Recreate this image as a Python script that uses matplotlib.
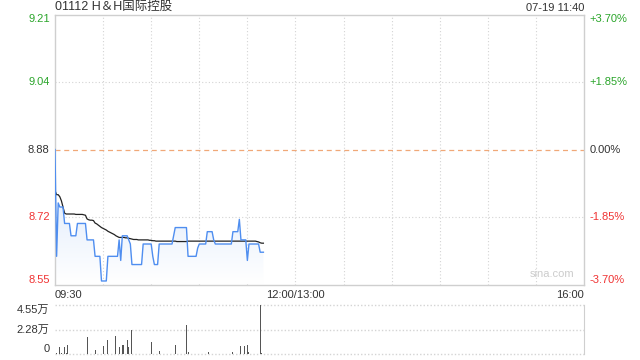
import matplotlib
matplotlib.use("Agg")
import numpy as np
import matplotlib.pyplot as plt
from matplotlib.colors import LinearSegmentedColormap

plt.rcParams['font.family'] = ['Liberation Sans', 'Noto Sans CJK SC', 'DejaVu Sans']

# ---- data -----------------------------------------------------------------
title = "01112 H＆H国际控股"
stamp = "07-19 11:40"
prev_close = 8.88
pct_ticks = [3.70, 1.85, 0.00, -1.85, -3.70]
price_labels = ["9.21", "9.04", "8.88", "8.72", "8.55"]
pct_labels = ["+3.70%", "+1.85%", "0.00%", "-1.85%", "-3.70%"]
vol_labels = ["4.55万", "2.28万", "0"]
vol_max = 45500
x_labels = ["09:30", "12:00/13:00", "16:00"]

# minute-by-minute price from 09:30 (minute 0) to 11:40 (minute 130)
price = [
    8.88, 8.62, 8.75, 8.74, 8.74, 8.74, 8.70, 8.70, 8.70, 8.70,   # 0-9
    8.67, 8.67, 8.67, 8.67, 8.70, 8.70, 8.70, 8.70, 8.70, 8.70,   # 10-19
    8.66, 8.66, 8.66, 8.66, 8.66, 8.62, 8.62, 8.62, 8.62, 8.56,   # 20-29
    8.56, 8.56, 8.56, 8.62, 8.62, 8.62, 8.62, 8.62, 8.62, 8.62,   # 30-39
    8.66, 8.61, 8.67, 8.67, 8.67, 8.67, 8.66, 8.65, 8.60, 8.60,   # 40-49
    8.60, 8.60, 8.60, 8.60, 8.60, 8.65, 8.65, 8.65, 8.65, 8.65,   # 50-59
    8.65, 8.62, 8.60, 8.60, 8.60, 8.65, 8.65, 8.65, 8.65, 8.65,   # 60-69
    8.65, 8.65, 8.65, 8.65, 8.67, 8.69, 8.69, 8.69, 8.69, 8.69,   # 70-79
    8.69, 8.69, 8.69, 8.62, 8.62, 8.62, 8.62, 8.62, 8.62, 8.64,   # 80-89
    8.65, 8.65, 8.65, 8.65, 8.65, 8.68, 8.68, 8.68, 8.68, 8.66,   # 90-99
    8.65, 8.65, 8.65, 8.65, 8.65, 8.65, 8.65, 8.65, 8.65, 8.65,   # 100-109
    8.65, 8.68, 8.68, 8.68, 8.68, 8.71, 8.66, 8.66, 8.66, 8.66,   # 110-119
    8.61, 8.65, 8.65, 8.65, 8.65, 8.65, 8.65, 8.65, 8.63, 8.63,   # 120-129
    8.63,                                                         # 130
]

# running average price
avg_price = [
    8.78, 8.77, 8.77, 8.765, 8.755, 8.74, 8.725, 8.723, 8.723, 8.723,
    8.723, 8.723, 8.723, 8.722, 8.722, 8.722, 8.722, 8.722, 8.721, 8.72,
    8.711, 8.709, 8.708, 8.708, 8.707, 8.701, 8.699, 8.696, 8.693, 8.690,
    8.688, 8.686, 8.684, 8.681, 8.679, 8.677, 8.675, 8.673, 8.670, 8.668,
    8.666, 8.666, 8.666, 8.666, 8.665, 8.665, 8.664, 8.663, 8.662, 8.661,
    8.661, 8.661, 8.660, 8.660, 8.660, 8.660, 8.660, 8.660, 8.660, 8.659,
    8.659, 8.658, 8.658, 8.657, 8.657, 8.657, 8.657, 8.657, 8.657, 8.657,
    8.657, 8.657, 8.657, 8.657, 8.657, 8.657, 8.656, 8.656, 8.656, 8.656,
    8.656, 8.656, 8.656, 8.657, 8.657, 8.657, 8.657, 8.657, 8.657, 8.657,
    8.657, 8.657, 8.657, 8.657, 8.657, 8.657, 8.657, 8.657, 8.657, 8.657,
    8.657, 8.657, 8.657, 8.657, 8.657, 8.657, 8.657, 8.657, 8.657, 8.657,
    8.657, 8.657, 8.657, 8.657, 8.657, 8.657, 8.657, 8.657, 8.657, 8.657,
    8.657, 8.657, 8.657, 8.657, 8.657, 8.657, 8.656, 8.655, 8.653, 8.652,
    8.652,
]

# per-minute volume (shares)
volume = [
    0, 500, 400, 6200, 600, 3100, 6200, 500, 8700, 400,           # 0-9
    300, 400, 300, 400, 300, 400, 300, 400, 300, 400,             # 10-19
    15500, 400, 300, 400, 300, 4000, 400, 300, 400, 300,          # 20-29
    7100, 400, 300, 13300, 400, 300, 400, 300, 16400, 400,        # 30-39
    6200, 300, 8700, 8700, 400, 13300, 6500, 300, 22000, 400,     # 40-49
    300, 400, 300, 400, 300, 400, 300, 400, 300, 400,             # 50-59
    11500, 400, 300, 9300, 400, 3100, 300, 400, 300, 400,         # 60-69
    300, 400, 300, 400, 300, 8700, 400, 300, 400, 300,            # 70-79
    400, 300, 26500, 1900, 400, 300, 400, 300, 400, 300,          # 80-89
    400, 300, 400, 300, 400, 300, 1500, 400, 300, 400,            # 90-99
    300, 400, 300, 400, 300, 400, 300, 400, 300, 400,             # 100-109
    300, 1800, 400, 300, 400, 300, 7700, 300, 7700, 400,          # 110-119
    8700, 1500, 400, 300, 400, 300, 400, 300, 45500, 1200,        # 120-129
    400,                                                          # 130
]

# ---- layout -----------------------------------------------------------------
total_min = 330
minutes = np.arange(len(price))
lo = prev_close * (1 + pct_ticks[-1] / 100)
hi = prev_close * (1 + pct_ticks[0] / 100)
tick_vals = [prev_close * (1 + p / 100) for p in pct_ticks]

grid_c = "#d4d4d4"
frame_c = "#cfcfcf"
green = "#2aa52a"
red = "#f03333"
dark = "#333333"
label_colors = [green, green, dark, red, red]

fig = plt.figure(figsize=(6.4, 3.6), dpi=100)
ax = fig.add_axes([55 / 640, 1 - 284.5 / 360, 529 / 640, 270 / 360])
axv = fig.add_axes([55 / 640, 1 - 354 / 360, 529 / 640, 49 / 360])

# price panel
ax.set_xlim(0, total_min)
ax.set_ylim(lo, hi)
for m in range(30, total_min, 30):
    ax.axvline(m, color=grid_c, lw=0.8, ls=(0, (1, 2)), zorder=1)
for v in (tick_vals[1], tick_vals[3]):
    ax.axhline(v, color=grid_c, lw=0.8, ls=(0, (1, 2)), zorder=1)
ax.axhline(prev_close, color="#f0a878", lw=0.9, ls=(0, (4, 3)), zorder=1)

# light gradient under the price line
poly = ax.fill_between(minutes, price, lo, color="none", lw=0)
grad = LinearSegmentedColormap.from_list("g", ["#ffffff", "#e6effc"])
top = max(price[1:])
img = ax.imshow(np.linspace(0, 1, 100).reshape(-1, 1), cmap=grad,
                aspect="auto", origin="lower", zorder=2,
                extent=[0, len(price) - 1, lo, top])
img.set_clip_path(poly.get_paths()[0], transform=ax.transData)
ax.set_xlim(0, total_min)
ax.set_ylim(lo, hi)

ax.plot(minutes, avg_price, color="#222222", lw=0.9, zorder=3)
ax.plot(minutes, price, color="#4f8ef0", lw=1.0, zorder=4)

ax.set_xticks([])
ax.set_yticks([])
for s in ax.spines.values():
    s.set_color(frame_c)
    s.set_linewidth(1.0)

vas = ["top", "center", "center", "center", "bottom"]
for v, pl, cl, c, va in zip(tick_vals, price_labels, pct_labels, label_colors, vas):
    ax.text(-0.01, v, pl, transform=ax.get_yaxis_transform(), ha="right",
            va=va, fontsize=8, color=c)
    ax.text(1.01, v, cl, transform=ax.get_yaxis_transform(), ha="left",
            va=va, fontsize=8, color=c)

ax.text(0, 1.005, title, transform=ax.transAxes, ha="left", va="bottom",
        fontsize=9, color=dark)
ax.text(1, 1.005, stamp, transform=ax.transAxes, ha="right", va="bottom",
        fontsize=8, color=dark)
ax.text(0.94, 0.02, "sina.com", transform=ax.transAxes, ha="center",
        va="bottom", fontsize=8, color="#cccccc")

ax.text(0, -0.02, x_labels[0], transform=ax.transAxes, ha="left", va="top",
        fontsize=8, color=dark)
ax.text(150 / total_min, -0.02, x_labels[1], transform=ax.transAxes,
        ha="center", va="top", fontsize=8, color=dark)
ax.text(1, -0.02, x_labels[2], transform=ax.transAxes, ha="right", va="top",
        fontsize=8, color=dark)

# volume panel
axv.set_xlim(0, total_min)
axv.set_ylim(0, vol_max)
axv.bar(minutes, volume, width=0.6, color="#555555", zorder=3)
for v in (vol_max, vol_max / 2, 0):
    axv.axhline(v, color=grid_c, lw=1.0, ls=(0, (1, 1.5)), zorder=1,
                clip_on=False)
axv.set_xticks([])
axv.set_yticks([])
for k in ("top", "bottom", "left"):
    axv.spines[k].set_visible(False)
axv.spines["right"].set_color(frame_c)
for v, lab, va in zip((vol_max, vol_max / 2, 0), vol_labels,
                      ("top", "center", "bottom")):
    axv.text(-0.01, v, lab, transform=axv.get_yaxis_transform(), ha="right",
             va=va, fontsize=8, color=dark)

fig.savefig("out.png", dpi=100)
